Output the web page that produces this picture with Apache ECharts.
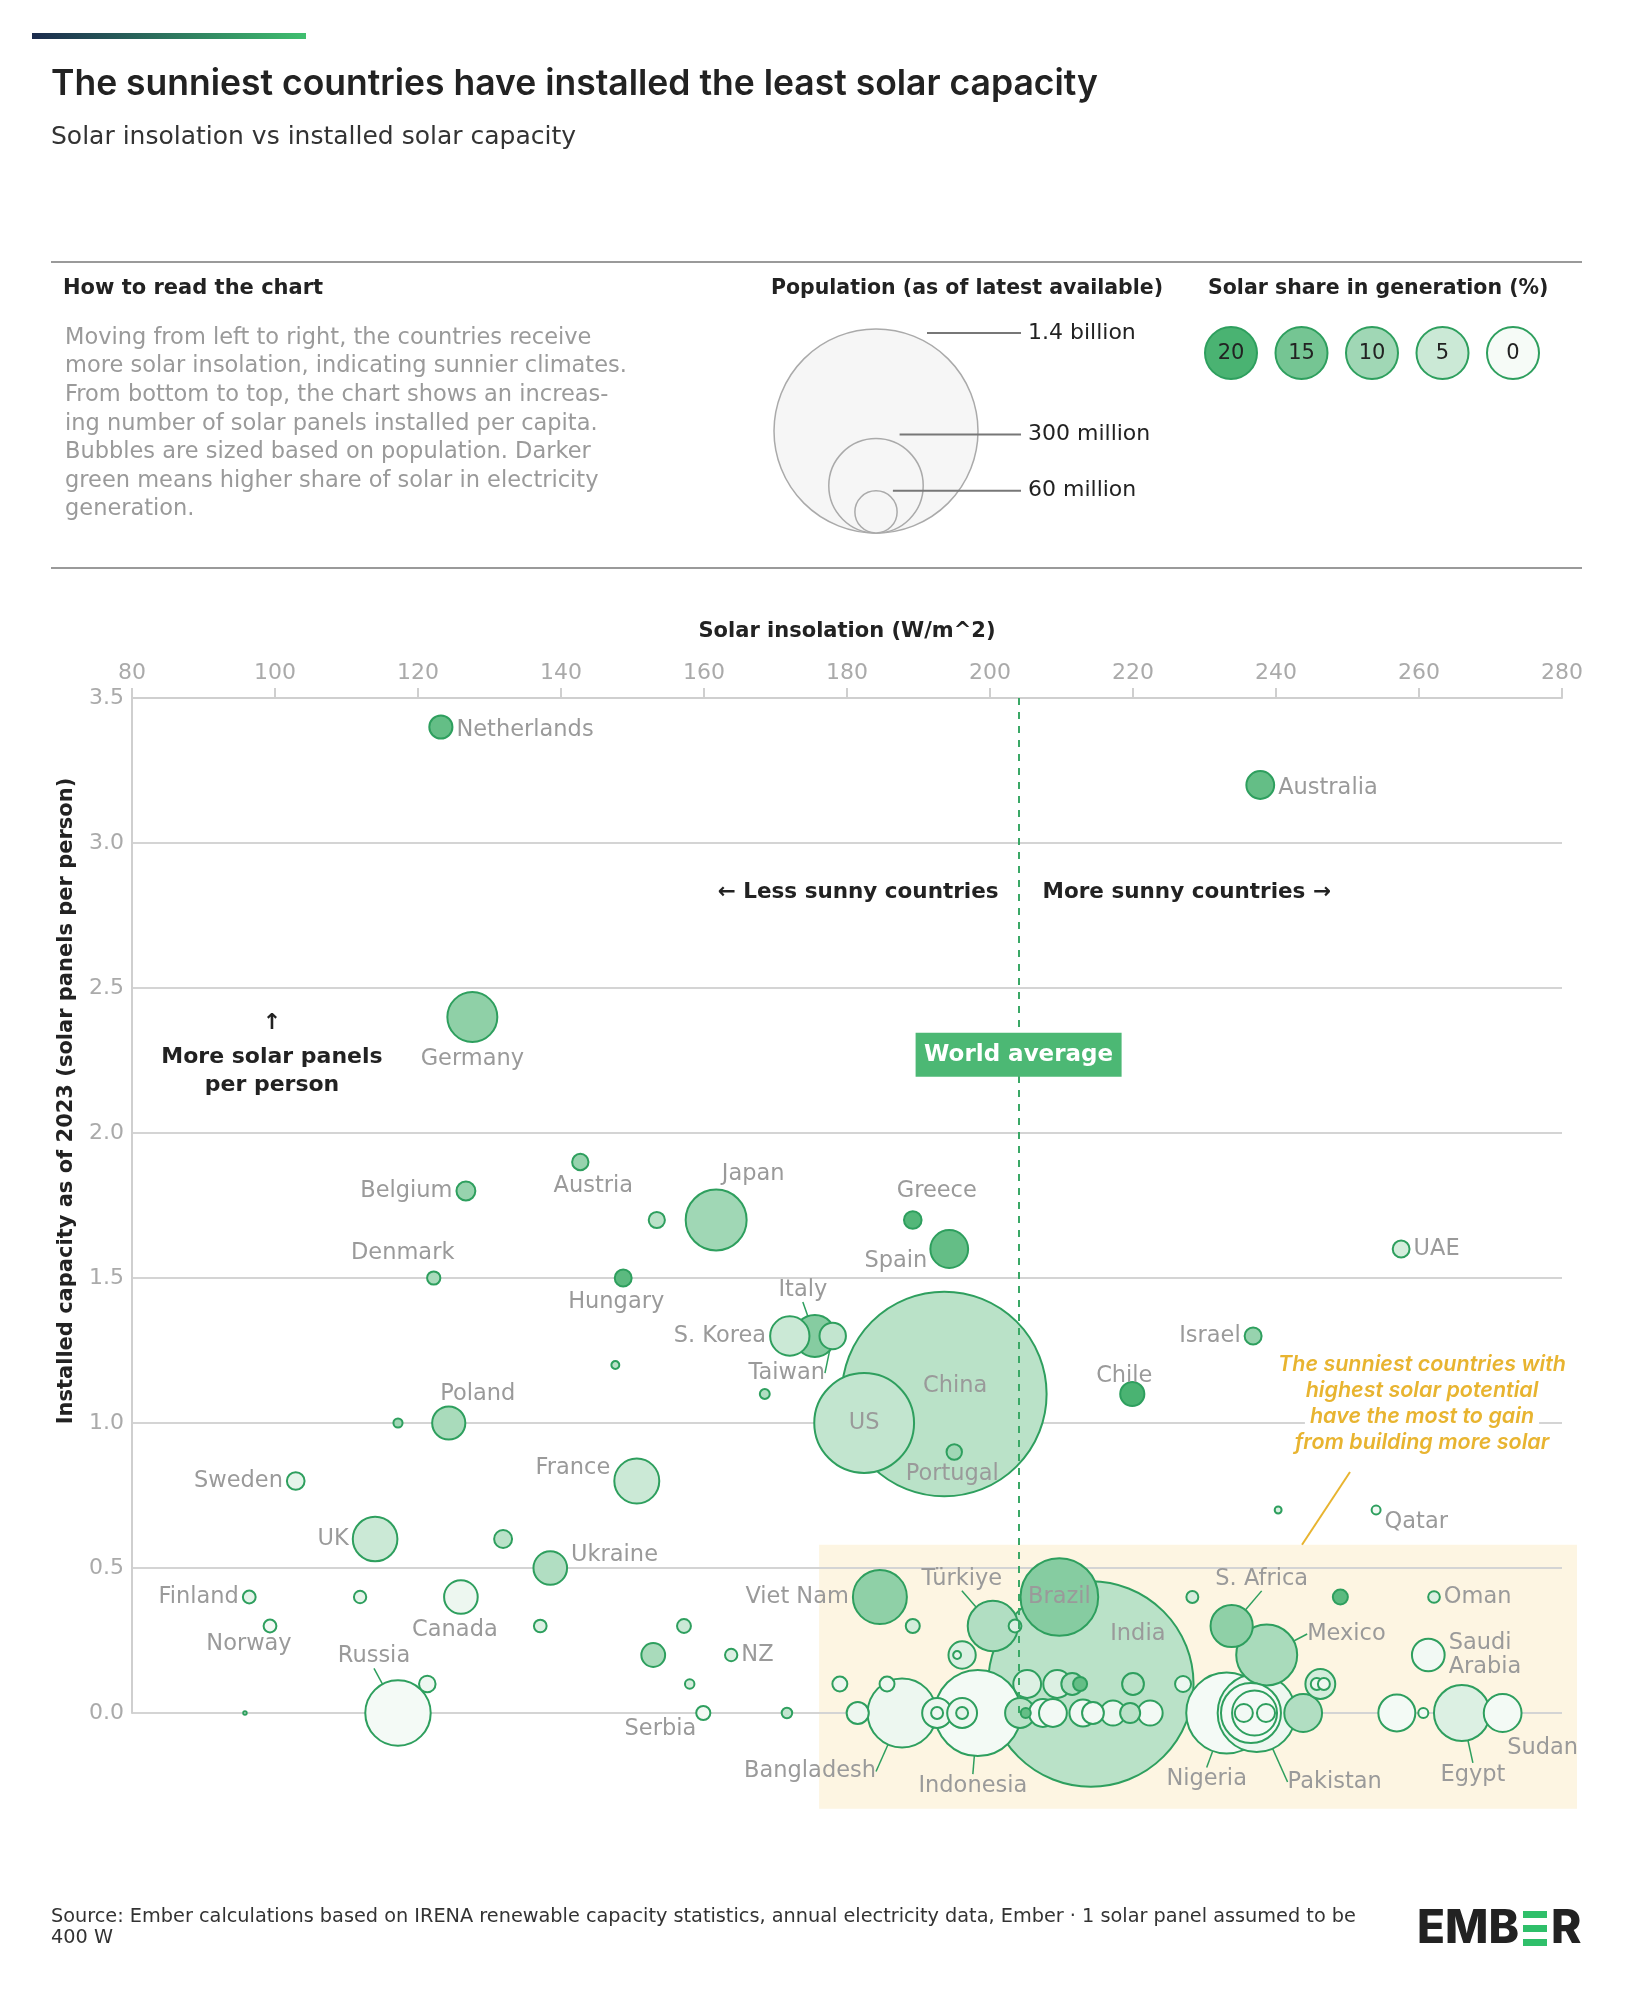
<!DOCTYPE html>
<html><head><meta charset="utf-8">
<script src="https://cdn.jsdelivr.net/npm/echarts/dist/echarts.min.js"></script>
<style>html,body{margin:0;padding:0;background:#fff}#chart{width:1638px;height:2000px}</style>
</head><body><div id="chart"></div>
<script>
// ---------------- DATA ----------------
const countries = ["Netherlands","Australia","Germany","Belgium","Austria","Switzerland","Japan","Greece","Spain","UAE",
"Denmark","Hungary","S. Korea","Italy","Taiwan","Slovenia","Cyprus","China","US","Portugal",
"Chile","Israel","Poland","Lithuania","Sweden","France","UK","Czechia","Ukraine","Finland",
"Ireland","Canada","Norway","Slovakia","Russia","Belarus","Iceland","Romania","Bulgaria","NZ",
"Croatia","Serbia","Georgia","Viet Nam","Lebanon","Türkiye","Azerbaijan","Brazil","India","Indonesia",
"Bangladesh","Cambodia","Laos","Nepal","Malaysia","Myanmar","Sri Lanka","Dominican Rep.","Philippines","Jamaica",
"Thailand","El Salvador","Colombia","Peru","Honduras","Guatemala","Ghana","Côte d'Ivoire","Cameroon","Venezuela",
"Angola","Kenya","Tanzania","Ecuador","Bolivia","Nigeria","Pakistan","Ethiopia","DR Congo","Niger",
"Mali","Mexico","S. Africa","Namibia","Jordan","Oman","Saudi Arabia","Morocco","Mauritania","Libya",
"Algeria","Egypt","Sudan","Iraq","Kuwait","Qatar","Bahrain"];
const insolation = [123.2,237.8,127.6,126.7,142.7,153.4,161.7,189.2,194.3,257.5,
122.2,148.7,172.0,175.5,178.0,147.6,168.5,193.6,182.4,195.0,
219.9,236.8,124.3,117.2,102.9,150.6,114.0,131.9,138.5,96.4,
111.9,126.0,99.3,137.1,117.2,121.3,95.8,152.9,157.2,163.8,
158.0,159.9,171.6,184.6,189.2,200.4,203.5,209.7,214.1,198.3,
187.7,181.5,185.6,179.0,192.6,196.1,192.6,196.1,196.1,195.4,
204.2,205.0,205.2,209.4,212.6,211.5,207.4,208.8,213.0,214.4,
217.2,219.6,222.4,220.0,227.0,233.1,237.3,236.5,237.0,235.5,
238.6,238.7,233.8,228.3,249.0,262.1,261.3,246.2,245.7,246.7,
243.8,266.0,271.7,256.9,260.6,254.0,240.3];
const panelsPerPerson = [3.40,3.20,2.40,1.80,1.90,1.70,1.70,1.70,1.60,1.60,
1.50,1.50,1.30,1.30,1.30,1.20,1.10,1.10,1.00,0.90,
1.10,1.30,1.00,1.00,0.80,0.80,0.60,0.60,0.50,0.40,
0.40,0.40,0.30,0.30,0.00,0.10,0.00,0.20,0.30,0.20,
0.10,0.00,0.00,0.40,0.30,0.30,0.30,0.40,0.10,0.00,
0.00,0.00,0.10,0.10,0.00,0.00,0.00,0.00,0.20,0.20,
0.00,0.00,0.10,0.10,0.10,0.10,0.00,0.00,0.00,0.00,
0.00,0.00,0.00,0.10,0.10,0.00,0.00,0.00,0.00,0.00,
0.00,0.20,0.30,0.40,0.40,0.40,0.20,0.10,0.10,0.10,
0.00,0.00,0.00,0.00,0.00,0.70,0.70];
const populationM = [18,26,84,12,9,8.8,125,10.4,48,9.5,
5.9,9.6,52,59,23.5,2.1,3.3,1410,335,8,
19.6,9.7,37,2.8,10.5,68,67,10.8,38,5.5,
5.1,38,5.5,5.4,144,9.2,0.4,19,6.5,5.1,
3.0,6.7,3.7,98,6.6,85,5.5,203,1420,250,
160,16.5,7.5,7.5,30,30,4.8,4.8,25,2.1,
30,3.4,26,26,6.6,16,26,26,24.5,16,
21,13.5,21,16,8.6,220,205,121,68,11,
11,125,60,4.8,7.6,4.6,36,30,4.8,4.8,
48,105,48,46,3.4,2.7,1.6];
const solarShare = [17,17,12,11,11,7,10,19,17,4,
9,18,5,13,6,7,8,7,6,10,
20,11,9,10,2,5,5,7,8,2,
2,1,0.5,3,0.2,1,0,9,5,3,
4,0.5,6,12,4,8,3,13,7,0.3,
1,1,1,1,1,1,1,2,3,2,
7,17,3,3,17,8,0.5,0.5,0.5,0.5,
1,7,0.5,7,1,0.2,1,0.2,0.2,0.5,
0.5,9,12,4,18,3,0.5,4,1,1,
8,3,0.3,0.3,0.3,0.5,3];
const worldAverage = 204;
const popLegendValues = [1400, 300, 60];
const popLegendLabels = ["1.4 billion", "300 million", "60 million"];
const shareLegendValues = [20, 15, 10, 5, 0];
const xTicks = {min: 80, max: 280, interval: 20};
const yTicks = {min: 0, max: 3.5, interval: 0.5};
const highlightBoxX = [176.1, 282.1];
const highlightBoxY = [0.58, -0.33];

// ---------------- STYLE ----------------
const FONT = 'Inter, "Noto Sans", sans-serif';
const WIDE = '"DejaVu Sans", Verdana, sans-serif';
const GREEN_BORDER = '#2e9f5e';
const LABEL_GREY = '#9a9a9a';
const sizeOf = p => 204 * Math.sqrt(p / 1400);
function shareColor(s) {
  const t = Math.max(0, Math.min(1, s / 20));
  const a = [246, 251, 247], b = [74, 179, 114];
  return 'rgb(' + a.map((v, i) => Math.round(v + (b[i] - v) * t)).join(',') + ')';
}
const labelCfg = {
  "Netherlands": {position: 'right', offset: [0, 3]},
  "Australia": {position: 'right', offset: [0, 3]},
  "Germany": {position: 'bottom', distance: 4},
  "Belgium": {position: 'left'},
  "Austria": {position: 'bottom', offset: [13, 0]},
  "Japan": {position: 'top', offset: [37, 0], distance: 2},
  "Greece": {position: 'top', offset: [24, -4]},
  "Spain": {position: 'left', offset: [0, 12], distance: 2},
  "UAE": {position: 'right'},
  "Denmark": {position: 'top', offset: [-31, -2]},
  "Hungary": {position: 'bottom', offset: [-7, 0]},
  "S. Korea": {position: 'left'},
  "Italy": {position: 'top', offset: [-12, -2], distance: 10, line: true},
  "Taiwan": {position: 'bottom', offset: [-46, 8], line: true},
  "China": {position: 'inside', offset: [11, -8]},
  "US": {position: 'inside'},
  "Portugal": {position: 'bottom', offset: [-2, -2]},
  "Chile": {position: 'top', offset: [-8, 10]},
  "Israel": {position: 'left'},
  "Poland": {position: 'top', offset: [29, 4]},
  "Sweden": {position: 'left'},
  "France": {position: 'left', offset: [0, -13]},
  "UK": {position: 'left'},
  "Ukraine": {position: 'right', offset: [0, -13]},
  "Finland": {position: 'left'},
  "Canada": {position: 'bottom', offset: [-6, 0]},
  "Norway": {position: 'bottom', offset: [-21, -4]},
  "Russia": {position: 'top', offset: [-24, -8], line: true},
  "NZ": {position: 'right'},
  "Serbia": {position: 'left', offset: [4, 16]},
  "Viet Nam": {position: 'left'},
  "Türkiye": {position: 'top', offset: [-31, -6], line: true},
  "Brazil": {position: 'inside'},
  "India": {position: 'inside', offset: [47, -50]},
  "Indonesia": {position: 'bottom', offset: [-5, 14], line: true},
  "Bangladesh": {position: 'bottom', offset: [-92, 8], line: true},
  "Nigeria": {position: 'bottom', offset: [-20, 10], line: true},
  "Pakistan": {position: 'bottom', offset: [78, 14], line: true},
  "Mexico": {position: 'right', offset: [6, -21], line: true},
  "S. Africa": {position: 'top', offset: [30, -10], line: true},
  "Oman": {position: 'right'},
  "Saudi Arabia": {position: 'right', text: 'Saudi\nArabia'},
  "Egypt": {position: 'bottom', offset: [11, 18], line: true},
  "Sudan": {position: 'bottom', offset: [40, 0]},
  "Qatar": {position: 'right', offset: [0, 12]}
};

const items = countries.map((n, i) => ({name: n, value: [insolation[i], panelsPerPerson[i], populationM[i], solarShare[i]]}));
items.sort((a, b) => b.value[2] - a.value[2]);
items.forEach(it => {
  it.itemStyle = {color: shareColor(it.value[3])};
  const c = labelCfg[it.name];
  if (c) {
    it.label = {show: true, position: c.position, offset: c.offset || [0, 0],
      distance: c.distance !== undefined ? c.distance : 3, formatter: c.text || '{b}', lineHeight: 24};
    if (c.line) it.labelLine = {show: true, length2: 0, lineStyle: {color: GREEN_BORDER, width: 1.5}};
  }
});

const chart = echarts.init(document.getElementById('chart'), null, {renderer: 'canvas'});
const option = {
  animation: false,
  backgroundColor: '#fff',
  grid: {left: 132, right: 76, top: 698, bottom: 287, containLabel: false},
  xAxis: {
    type: 'value', position: 'top', min: xTicks.min, max: xTicks.max, interval: xTicks.interval,
    name: 'Solar insolation (W/m^2)', nameLocation: 'middle', nameGap: 56,
    nameTextStyle: {fontFamily: WIDE, fontSize: 21, fontWeight: 'bold', color: '#222'},
    axisLine: {show: true, onZero: false, lineStyle: {color: '#cfcfcf', width: 2}},
    axisTick: {show: true, length: 10, lineStyle: {color: '#cfcfcf', width: 2}},
    axisLabel: {color: '#aaa', fontSize: 22, fontFamily: WIDE, margin: 14},
    splitLine: {show: false}
  },
  yAxis: {
    type: 'value', min: yTicks.min, max: yTicks.max, interval: yTicks.interval,
    axisLine: {show: true, onZero: false, lineStyle: {color: '#cfcfcf', width: 2}},
    axisTick: {show: false},
    axisLabel: {color: '#aaa', fontSize: 22, fontFamily: WIDE, margin: 8, formatter: v => v.toFixed(1)},
    splitLine: {show: true, lineStyle: {color: '#d4d4d4', width: 2}}
  },
  series: [{
    type: 'scatter', data: items, clip: false, z: 3,
    symbolSize: v => sizeOf(v[2]),
    itemStyle: {borderColor: GREEN_BORDER, borderWidth: 2, opacity: 1},
    label: {show: false, color: LABEL_GREY, fontSize: 22.5, fontFamily: WIDE},
    labelLine: {show: false},
    emphasis: {disabled: true},
    markLine: {
      silent: true, symbol: 'none', label: {show: false},
      lineStyle: {color: '#3aa866', width: 2, type: [7, 7]},
      data: [{xAxis: worldAverage}]
    }
  }]
};
chart.setOption(option);

// ---------------- GRAPHICS ----------------
const bp1 = chart.convertToPixel({gridIndex: 0}, [highlightBoxX[0], highlightBoxY[0]]);
const bp2 = chart.convertToPixel({gridIndex: 0}, [highlightBoxX[1], highlightBoxY[1]]);
const wa = chart.convertToPixel({gridIndex: 0}, [worldAverage, 2.27]);
const sunnyY = chart.convertToPixel({gridIndex: 0}, [worldAverage, 2.83]);

const g = [];
g.push({type: 'rect', shape: {x: 32, y: 33, width: 274, height: 6},
  style: {fill: new echarts.graphic.LinearGradient(0, 0, 1, 0, [{offset: 0, color: '#1b2b4d'}, {offset: 1, color: '#3fbf6f'}])}});
g.push({type: 'text', x: 51, y: 84, style: {text: 'The sunniest countries have installed the least solar capacity',
  fontFamily: FONT, fontSize: 35.5, fontWeight: 600, fill: '#222', textVerticalAlign: 'middle'}});
g.push({type: 'text', x: 51, y: 137, style: {text: 'Solar insolation vs installed solar capacity',
  fontFamily: WIDE, fontSize: 25, fill: '#333', textVerticalAlign: 'middle'}});
[262, 568].forEach(y => g.push({type: 'line', shape: {x1: 51, y1: y, x2: 1582, y2: y}, style: {stroke: '#9a9a9a', lineWidth: 2}}));
g.push({type: 'text', x: 63, y: 289, style: {text: 'How to read the chart', fontFamily: WIDE, fontSize: 21, fontWeight: 'bold', fill: '#222', textVerticalAlign: 'middle'}});
const para = ['Moving from left to right, the countries receive', 'more solar insolation, indicating sunnier climates.',
  'From bottom to top, the chart shows an increas-', 'ing number of solar panels installed per capita.',
  'Bubbles are sized based on population. Darker', 'green means higher share of solar in electricity', 'generation.'];
para.forEach((t, i) => g.push({type: 'text', x: 65, y: 338 + i * 28.6,
  style: {text: t, fontFamily: WIDE, fontSize: 22.5, fill: '#9a9a9a', textVerticalAlign: 'middle'}}));
g.push({type: 'text', x: 967, y: 289, style: {text: 'Population (as of latest available)', fontFamily: WIDE, fontSize: 20.5, fontWeight: 'bold', fill: '#222', textAlign: 'center', textVerticalAlign: 'middle'}});
const legCx = 876, legBottom = 533;
popLegendValues.forEach((p, i) => {
  const r = sizeOf(p) / 2;
  g.push({type: 'circle', shape: {cx: legCx, cy: legBottom - r, r: r}, style: {fill: '#f6f6f6', stroke: '#aaa', lineWidth: 1.5}, z: i});
});
popLegendValues.forEach((p, i) => {
  const r = sizeOf(p) / 2;
  const ly = legBottom - 2 * r + (i === 0 ? 4 : (i === 1 ? -4 : 0));
  g.push({type: 'line', shape: {x1: legCx + r * (i === 2 ? 0.8 : 0.5), y1: ly, x2: 1021, y2: ly}, style: {stroke: '#777', lineWidth: 2}, z: 5});
  g.push({type: 'text', x: 1028, y: ly, style: {text: popLegendLabels[i], fontFamily: WIDE, fontSize: 22, fill: '#222', textVerticalAlign: 'middle'}, z: 5});
});
g.push({type: 'text', x: 1208, y: 289, style: {text: 'Solar share in generation (%)', fontFamily: WIDE, fontSize: 20.5, fontWeight: 'bold', fill: '#222', textVerticalAlign: 'middle'}});
shareLegendValues.forEach((s, i) => {
  const cx = 1231 + i * 70.5;
  g.push({type: 'circle', shape: {cx: cx, cy: 353, r: 26}, style: {fill: shareColor(s), stroke: GREEN_BORDER, lineWidth: 2}});
  g.push({type: 'text', x: cx, y: 354, style: {text: String(s), fontFamily: WIDE, fontSize: 21, fill: '#222', textAlign: 'center', textVerticalAlign: 'middle'}});
});
g.push({type: 'rect', z: -10, shape: {x: bp1[0], y: bp1[1], width: bp2[0] - bp1[0], height: bp2[1] - bp1[1]}, style: {fill: '#fdf5e2'}});
g.push({type: 'text', x: 67, y: 1101, rotation: Math.PI / 2,
  style: {text: 'Installed capacity as of 2023 (solar panels per person)', fontFamily: WIDE, fontSize: 21, fontWeight: 'bold', fill: '#222', textAlign: 'center', textVerticalAlign: 'middle'}});
g.push({type: 'text', x: wa[0] - 20, y: sunnyY[1], style: {text: '← Less sunny countries', fontFamily: WIDE, fontSize: 21.5, fontWeight: 'bold', fill: '#222', textAlign: 'right', textVerticalAlign: 'middle'}});
g.push({type: 'text', x: wa[0] + 24, y: sunnyY[1], style: {text: 'More sunny countries →', fontFamily: WIDE, fontSize: 21.5, fontWeight: 'bold', fill: '#222', textAlign: 'left', textVerticalAlign: 'middle'}});
[['↑', 1023], ['More solar panels', 1057], ['per person', 1085]].forEach(([t, y]) =>
  g.push({type: 'text', x: 272, y: y, style: {text: t, fontFamily: WIDE, fontSize: 22, fontWeight: 'bold', fill: '#222', textAlign: 'center', textVerticalAlign: 'middle'}}));
g.push({type: 'rect', z: 20, shape: {x: wa[0] - 103, y: wa[1] - 22, width: 206, height: 44}, style: {fill: '#4cb874'}});
g.push({type: 'text', z: 21, x: wa[0], y: wa[1], style: {text: 'World average', fontFamily: WIDE, fontSize: 23, fontWeight: 'bold', fill: '#fff', textAlign: 'center', textVerticalAlign: 'middle'}});
const yl = ['The sunniest countries with', 'highest solar potential', 'have the most to gain', 'from building more solar'];
yl.forEach((t, i) => g.push({type: 'text', z: 20, x: 1422, y: 1365 + i * 25.8,
  style: {text: t, fontFamily: FONT, fontSize: 21.5, fontStyle: 'italic', fontWeight: 600, fill: '#e8b430', textAlign: 'center', textVerticalAlign: 'middle', backgroundColor: '#fff', padding: [0, 5]}}));
g.push({type: 'line', z: 20, shape: {x1: 1350, y1: 1472, x2: 1302, y2: bp1[1]}, style: {stroke: '#e8b430', lineWidth: 2}});
g.push({type: 'text', x: 51, y: 1917, style: {text: 'Source: Ember calculations based on IRENA renewable capacity statistics, annual electricity data, Ember · 1 solar panel assumed to be', fontFamily: WIDE, fontSize: 19.3, fill: '#333', textVerticalAlign: 'middle'}});
g.push({type: 'text', x: 51, y: 1938, style: {text: '400 W', fontFamily: WIDE, fontSize: 19.3, fill: '#333', textVerticalAlign: 'middle'}});
g.push({type: 'text', x: 1519, y: 1929, style: {text: 'EMB', fontFamily: FONT, fontSize: 46, fontWeight: 800, fill: '#222', textAlign: 'right', textVerticalAlign: 'middle'}});
[1911, 1925, 1939].forEach(y => g.push({type: 'rect', shape: {x: 1523, y: y, width: 24, height: 7}, style: {fill: '#2fbf6a'}}));
g.push({type: 'text', x: 1551, y: 1929, style: {text: 'R', fontFamily: FONT, fontSize: 46, fontWeight: 800, fill: '#222', textAlign: 'left', textVerticalAlign: 'middle'}});

chart.setOption({graphic: {elements: g}});
</script></body></html>
